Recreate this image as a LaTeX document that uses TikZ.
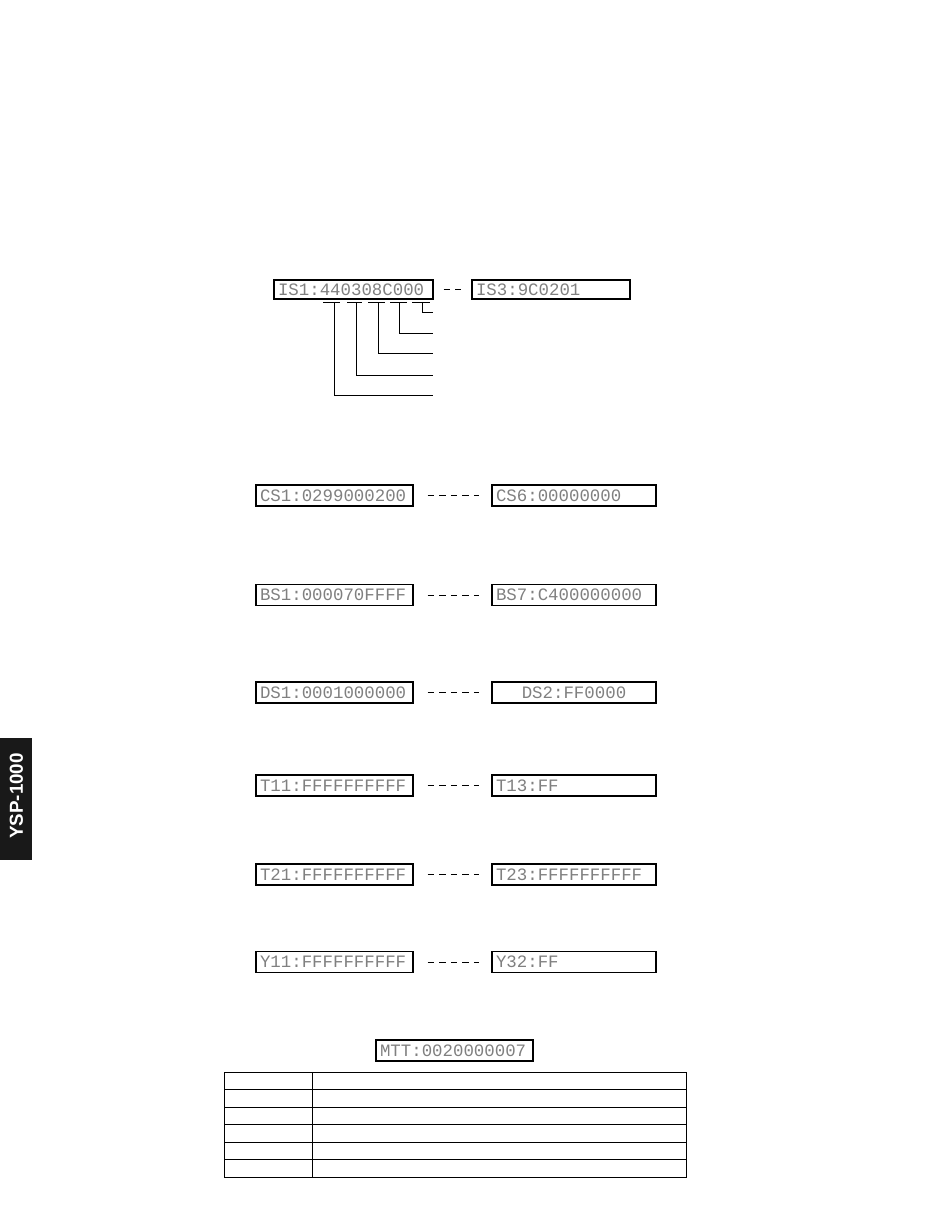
\documentclass[tikz,border=0pt]{standalone}
\usepackage{fontspec}
\setmainfont{Liberation Sans}
\newfontfamily\lcd{Liberation Mono}
\begin{document}
\begin{tikzpicture}[x=1pt,y=-1pt,
  lcdtext/.style={font=\lcd\fontsize{17.4}{17.4}\selectfont, text=black!50},
  lcdbox/.style={lcdtext, draw=black, line width=1.1pt, minimum height=21pt,
     inner xsep=4pt, inner ysep=0pt, align=left},
  lbox/.style={lcdbox, text width=149pt},
  rbox/.style={lcdbox, text width=156pt},
  link/.style={line width=1pt, dash pattern=on 6.5pt off 5.1pt},
  leader/.style={line width=0.9pt},
  grid/.style={line width=1pt}]
\useasboundingbox (0,0) rectangle (950,1229);

% side tab
\fill[black!90] (0,738) rectangle (32,860);
\node[rotate=90, text=white, font=\bfseries\fontsize{18.8}{18.8}\selectfont] (tab) at (16.5,796) {YSP-1000};

% IS row
\node[lcdbox, text width=151pt, minimum height=19pt] (is1) at (353.5,289.5) {IS1:440308C000};
\node[lcdbox, text width=150pt, minimum height=19pt] (is3) at (551,289.5) {IS3:9C0201};
\draw[line width=1pt, dash pattern=on 6pt off 5.5pt] ([xshift=10pt]is1.east) -- ([xshift=-10pt]is3.west);

% underlines and leaders
\foreach \a/\b in {323/340,347/362,368/385,390/407,412/430}
  \draw[leader] (\a,302) -- (\b,302);
\coordinate (l1) at (433,312);
\coordinate (l2) at (433,333);
\coordinate (l3) at (433,353);
\coordinate (l4) at (433,375);
\coordinate (l5) at (433,395);
\draw[leader] (422,302) |- (l1);
\draw[leader] (399,302) |- (l2);
\draw[leader] (378,302) |- (l3);
\draw[leader] (356,302) |- (l4);
\draw[leader] (334,302) |- (l5);

% pairs
\foreach \y/\l/\r/\n in {495.5/CS1:0299000200/CS6:00000000/c,
                         595/BS1:000070FFFF/BS7:C400000000/b,
                         785.5/T11:FFFFFFFFFF/T13:FF/t,
                         874.5/T21:FFFFFFFFFF/T23:FFFFFFFFFF/u,
                         962/Y11:FFFFFFFFFF/Y32:FF/y} {
  \node[lbox] (\n l) at (334.5,\y) {\l};
  \node[rbox] (\n r) at (574,\y) {\r};
  \draw[link] ([xshift=14pt]\n l.east) -- ([xshift=-12pt]\n r.west);
}
\node[lbox] (dl) at (334.5,692.5) {DS1:0001000000};
\node[rbox, align=center] (dr) at (574,692.5) {DS2:FF0000};
\draw[link] ([xshift=14pt]dl.east) -- ([xshift=-12pt]dr.west);

% MTT
\node[lbox] (mtt) at (454.5,1050.5) {MTT:0020000007};

% table
\draw[grid] (224,1072) rectangle (686,1177);
\draw[grid] (312,1072) -- (312,1177);
\foreach \y in {1089.5,1107,1124.5,1142,1159.5}
  \draw[grid] (224,\y) -- (686,\y);
\end{tikzpicture}
\end{document}
